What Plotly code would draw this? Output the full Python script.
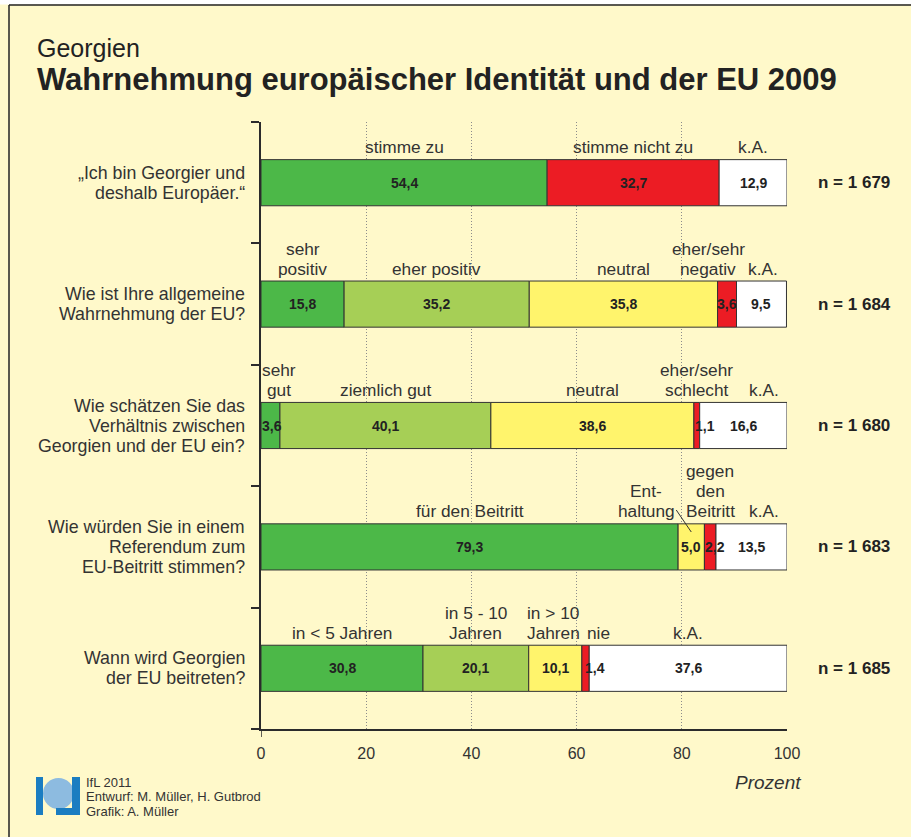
import plotly.graph_objects as go

# ---------------- data ----------------
questions = [
    ["„Ich bin Georgier und", "deshalb Europäer.“"],
    ["Wie ist Ihre allgemeine", "Wahrnehmung der EU?"],
    ["Wie schätzen Sie das", "Verhältnis zwischen", "Georgien und der EU ein?"],
    ["Wie würden Sie in einem", "Referendum zum", "EU-Beitritt stimmen?"],
    ["Wann wird Georgien", "der EU beitreten?"],
]
segment_names = [
    [["stimme zu"], ["stimme nicht zu"], ["k.A."]],
    [["sehr", "positiv"], ["eher positiv"], ["neutral"], ["eher/sehr", "negativ"], ["k.A."]],
    [["sehr", "gut"], ["ziemlich gut"], ["neutral"], ["eher/sehr", "schlecht"], ["k.A."]],
    [["für den Beitritt"], ["Ent-", "haltung"], ["gegen", "den", "Beitritt"], ["k.A."]],
    [["in < 5 Jahren"], ["in 5 - 10", "Jahren"], ["in > 10", "Jahren"], ["nie"], ["k.A."]],
]
values_identity = [54.4, 32.7, 12.9]
values_perception = [15.8, 35.2, 35.8, 3.6, 9.5]
values_relation = [3.6, 40.1, 38.6, 1.1, 16.6]
values_referendum = [79.3, 5.0, 2.2, 13.5]
values_accession = [30.8, 20.1, 10.1, 1.4, 37.6]
segment_values = [values_identity, values_perception, values_relation,
                  values_referendum, values_accession]
n_values = ["1 679", "1 684", "1 680", "1 683", "1 685"]
x_ticks = [0, 20, 40, 60, 80, 100]

# ---------------- style ----------------
DG, LG, YE, RE, WH = "#4cb848", "#a6cf56", "#fff46c", "#ec1c24", "#ffffff"
segment_colors = [
    [DG, RE, WH],
    [DG, LG, YE, RE, WH],
    [DG, LG, YE, RE, WH],
    [DG, YE, RE, WH],
    [DG, LG, YE, RE, WH],
]
name_shift = [[0, 0, 0], [0, 0, 0, -19, 2], [9, 0, 0, 0, 21], [0, -45, 0, 12], [0, 0, -2, 13, 0]]
value_shift = [[0, 0, 0], [0, 0, 0, 0, 0], [2, 0, 0, 8, 0], [0, 0, 5, 0], [0, 0, 0, 9, 0]]

BG = "#fff9ca"
TXT = "#333333"
FONT = "Liberation Sans, Arial, Helvetica, sans-serif"
AX = "#2b2b2b"
BAR_W = 0.38
LABEL_GAP = 20

L, R, T, B = 261, 124, 122, 108
W, H = 911, 837
PW, PH = W - L - R, H - T - B


def px(xp):
    return (xp - L) / PW


def py(yp):
    return (H - B - yp) / PH


fig = go.Figure()
annotations = []
shapes = []

for i, vals in enumerate(segment_values):
    cum = 0.0
    for j, v in enumerate(vals):
        fig.add_trace(go.Bar(
            x=[v], y=[i], base=[cum], orientation="h", width=BAR_W,
            marker=dict(color=segment_colors[i][j], line=dict(color="#333333", width=1)),
            showlegend=False, hoverinfo="skip",
        ))
        center = cum + v / 2
        # value label
        annotations.append(dict(
            x=center, y=i, xref="x", yref="y", text="<b>" + f"{v:.1f}".replace(".", ",") + "</b>",
            showarrow=False, font=dict(size=14, color="#222222", family=FONT),
            xshift=value_shift[i][j], yanchor="middle",
        ))
        # category label above segment (one annotation per line)
        lines = segment_names[i][j]
        nl = len(lines)
        for k, line in enumerate(lines):
            annotations.append(dict(
                x=center, y=i, xref="x", yref="y", text=line, showarrow=False,
                font=dict(size=17.3, color=TXT, family=FONT), yanchor="middle",
                xshift=name_shift[i][j], yshift=35.5 + LABEL_GAP * (nl - 1 - k),
            ))
        cum += v

    # question label on the left
    q = questions[i]
    nq = len(q)
    for k, line in enumerate(q):
        annotations.append(dict(
            x=px(247), y=i, xref="paper", yref="y", text=line, showarrow=False,
            xanchor="right", yanchor="middle", font=dict(size=17.8, color=TXT, family=FONT),
            yshift=20 * ((nq - 1) / 2 - k),
        ))
    # n label
    annotations.append(dict(
        x=px(816), y=i, xref="paper", yref="y", text="<b>n = " + n_values[i] + "</b>",
        showarrow=False, xanchor="left", yanchor="middle",
        font=dict(size=17, color="#222222", family=FONT),
    ))

# leader line for "Enthaltung"
ent_center = values_referendum[0] + values_referendum[1] / 2
shapes.append(dict(type="line", xref="x", yref="y",
                   x0=ent_center - 15 / PW * 100, y0=3 - 36.9 / (PH / 5),
                   x1=ent_center, y1=3 - 14.9 / (PH / 5),
                   line=dict(color="#333333", width=1)))

# extension of y axis below x axis (tick at 0)
shapes.append(dict(type="line", xref="x", yref="paper", x0=0, x1=0, y0=0, y1=-8 / PH,
                   line=dict(color=AX, width=1.5)))

# frame lines
shapes.append(dict(type="rect", xref="paper", yref="paper", x0=px(0), x1=px(W), y0=py(0), y1=py(4.5),
                   fillcolor="white", line=dict(width=0), layer="below"))
shapes.append(dict(type="line", xref="paper", yref="paper", x0=px(9), x1=px(W), y0=py(5), y1=py(5),
                   line=dict(color="#222222", width=1.5)))
shapes.append(dict(type="line", xref="paper", yref="paper", x0=px(9), x1=px(9), y0=py(5), y1=py(H),
                   line=dict(color="#222222", width=1.5)))

# logo (approximation)
LB = "#1b7dc1"
shapes.append(dict(type="circle", xref="paper", yref="paper", x0=px(43), x1=px(74), y0=py(778), y1=py(809),
                   fillcolor="#8dbbe0", line=dict(width=0)))
shapes.append(dict(type="rect", xref="paper", yref="paper", x0=px(36), x1=px(43), y0=py(777), y1=py(815),
                   fillcolor=LB, line=dict(width=0)))
shapes.append(dict(type="rect", xref="paper", yref="paper", x0=px(72), x1=px(80), y0=py(777), y1=py(815),
                   fillcolor=LB, line=dict(width=0)))
shapes.append(dict(type="rect", xref="paper", yref="paper", x0=px(56), x1=px(80), y0=py(808), y1=py(815),
                   fillcolor=LB, line=dict(width=0)))

# titles
annotations.append(dict(x=px(35), y=py(48), xref="paper", yref="paper", text="Georgien",
                        showarrow=False, xanchor="left", yanchor="middle",
                        font=dict(size=25, color="#222222", family=FONT)))
annotations.append(dict(x=px(35), y=py(79), xref="paper", yref="paper",
                        text="<b>Wahrnehmung europäischer Identität und der EU 2009</b>",
                        showarrow=False, xanchor="left", yanchor="middle",
                        font=dict(size=31, color="#222222", family=FONT)))
# axis unit
annotations.append(dict(x=px(803), y=py(782), xref="paper", yref="paper", text="<i>Prozent</i>",
                        showarrow=False, xanchor="right", yanchor="middle",
                        font=dict(size=19, color="#333333", family=FONT)))
# footer
FOOT = "Liberation Sans Narrow, Liberation Sans, Arial, sans-serif"
for k, line in enumerate(["IfL 2011", "Entwurf: M. Müller, H. Gutbrod", "Grafik: A. Müller"]):
    annotations.append(dict(x=px(84), y=py(782 + 14.5 * k), xref="paper", yref="paper", text=line,
                            showarrow=False, xanchor="left", yanchor="middle",
                            font=dict(size=13, color="#333333", family=FOOT)))

fig.update_layout(
    width=W, height=H, autosize=False,
    margin=dict(l=L, r=R, t=T, b=B, pad=0),
    paper_bgcolor=BG, plot_bgcolor=BG,
    barmode="overlay",
    font=dict(family=FONT, color=TXT),
    annotations=annotations, shapes=shapes,
    xaxis=dict(range=[0, 100], tickvals=x_ticks, ticktext=[str(t) for t in x_ticks],
               showgrid=True, gridcolor="#8c8c8c", griddash="1px,2px", gridwidth=1,
               zeroline=False, showline=True, linecolor=AX, linewidth=1.5,
               ticks="", tickfont=dict(size=16, color=TXT, family=FONT), ticklabelstandoff=9,
               fixedrange=True),
    yaxis=dict(range=[4.5, -0.5], tickvals=[-0.5, 0.5, 1.5, 2.5, 3.5, 4.5],
               ticks="outside", ticklen=8, tickwidth=1.5, tickcolor=AX,
               showticklabels=False, showgrid=False, zeroline=False,
               showline=True, linecolor=AX, linewidth=1.5, fixedrange=True),
)

fig.write_html("out.html", config={"displayModeBar": False},
               post_script="document.body.style.margin='0';")
